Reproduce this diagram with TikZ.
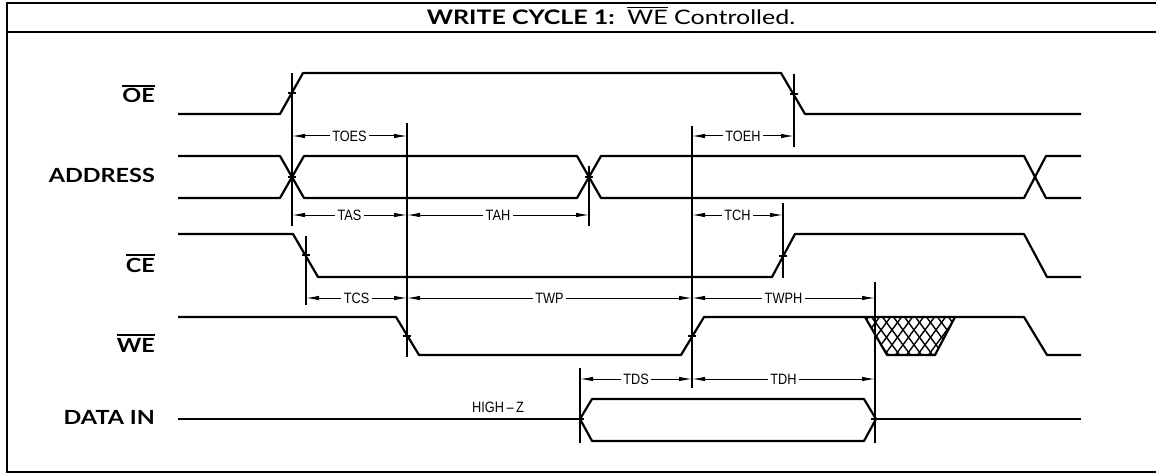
\documentclass[tikz,border=0pt]{standalone}
\usepackage{fontspec}
\setmainfont{Lato}
\newfontfamily\sigfont[FakeStretch=1.2]{Lato}
\newfontfamily\headfont[FakeStretch=1.25]{Lato}
\newfontfamily\timefont[FakeStretch=0.85]{Liberation Sans}
\usetikzlibrary{arrows.meta}

% signal name with an active-low bar over it
\newcommand{\barsig}[1]{\vbox{\hrule height 1.7pt\kern 2.2pt\hbox{#1}}}

\begin{document}
\begin{tikzpicture}[
    x=1pt, y=-1pt,
    % --- outer frame and title strip ---
    frame/.style={line width=2.4pt, black},
    title/.style={anchor=base, inner sep=0pt,
                  font={\headfont\fontsize{20}{23}\selectfont}},
    % --- signal names on the left ---
    sig/.style={anchor=base east, inner sep=0pt,
                font={\sigfont\bfseries\fontsize{19.5}{22}\selectfont}},
    % --- waveforms ---
    wave/.style={line width=2.2pt, line join=round},
    hatch/.style={line width=1.4pt},
    % --- timing reference lines and dimension arrows ---
    refl/.style={line width=1.2pt},
    dim/.style={{Latex[length=13pt,width=4.5pt]}-{Latex[length=13pt,width=4.5pt]},
                line width=1pt},
    tlbl/.style={font={\timefont\fontsize{15}{17}\selectfont}, fill=white,
                 inner sep=2.5pt},
  ]

  \useasboundingbox (0,0) rectangle (1156,476);

  % ---- FRAME + TITLE -----------------------------------------------------
  \draw[frame] (1156,3) -- (7,3) -- (7,472) -- (1156,472);
  \draw[frame] (7,32) -- (1156,32);
  \node[title] (title) at (611,25)
        {\textbf{WRITE CYCLE 1:}\ \ \barsig{WE} Controlled.};

  % ---- SIGNAL NAMES ------------------------------------------------------
  \node[sig] (nOE)   at (155,103) {\barsig{OE}};
  \node[sig] (nADDR) at (155,182) {ADDRESS};
  \node[sig] (nCE)   at (155,272) {\barsig{CE}};
  \node[sig] (nWE)   at (155,352) {\barsig{WE}};
  \node[sig] (nDATA) at (155,424) {DATA IN};

  % ---- EDGE INSTANTS + DIMENSION ROWS ------------------------------------
  \coordinate (eA)  at (292,0);   % OE rise / address valid
  \coordinate (eCs) at (306,0);   % CE fall
  \coordinate (eW1) at (407,0);   % WE fall
  \coordinate (eD0) at (580,0);   % data valid
  \coordinate (eA2) at (589,0);   % address change
  \coordinate (eW2) at (692,0);   % WE rise
  \coordinate (eC2) at (783,0);   % CE rise
  \coordinate (eO2) at (794,0);   % OE fall
  \coordinate (eD1) at (875,0);   % data end

  \coordinate (rOE) at (0,136);
  \coordinate (rAS) at (0,215);
  \coordinate (rWP) at (0,298);
  \coordinate (rDS) at (0,379);

  % ---- WAVEFORMS ---------------------------------------------------------
  % OE
  \draw[wave] (178,114) -- (280,114) -- (303,73) -- (781,73) -- (805,114)
        -- (1081,114);
  % ADDRESS
  \draw[wave] (178,156) -- (280,156) -- (304,198) -- (577,198) -- (601,156)
        -- (1024,156) -- (1046,198) -- (1081,198);
  \draw[wave] (178,198) -- (280,198) -- (304,156) -- (577,156) -- (601,198)
        -- (1024,198) -- (1046,156) -- (1081,156);
  % CE
  \draw[wave] (178,234) -- (293,234) -- (318,277) -- (772,277) -- (795,234)
        -- (1024,234) -- (1047,277) -- (1081,277);
  % WE
  \draw[wave] (178,317) -- (396,317) -- (419,355) -- (681,355) -- (704,317)
        -- (1024,317) -- (1047,355) -- (1081,355);
  % don't-care region on WE
  \begin{scope}
    \clip (865,317) -- (955,317) -- (935,355) -- (887,355) -- cycle;
    \foreach \x in {826,837,...,1002} {
      \draw[hatch] (\x,315) -- ++(31,42);
      \draw[hatch] (\x,315) -- ++(-31,42);
    }
  \end{scope}
  \draw[wave] (865,317) -- (887,355) -- (935,355) -- (955,317);
  % DATA IN
  \draw[wave] (178,419) -- (580,419);
  \draw[wave] (580,419) -- (592,399) -- (864,399) -- (876,419) -- (864,441)
        -- (592,441) -- cycle;
  \draw[wave] (876,419) -- (1081,419);
  \node[tlbl, fill=none, anchor=base, inner sep=0pt] (hiz) at (498,412)
        {HIGH\,\textendash\,Z};

  % ---- REFERENCE LINES ---------------------------------------------------
  \draw[refl] (eA  |- 0,73)  -- (eA  |- 0,226);
  \draw[refl] (eCs |- 0,236) -- (eCs |- 0,305);
  \draw[refl] (eW1 |- 0,123) -- (eW1 |- 0,357);
  \draw[refl] (eD0 |- 0,368) -- (eD0 |- 0,443);
  \draw[refl] (eA2 |- 0,166) -- (eA2 |- 0,226);
  \draw[refl] (eW2 |- 0,126) -- (eW2 |- 0,388);
  \draw[refl] (eC2 |- 0,203) -- (eC2 |- 0,278);
  \draw[refl] (eO2 |- 0,74)  -- (eO2 |- 0,147);
  \draw[refl] (eD1 |- 0,282) -- (eD1 |- 0,443);
  % crossing ticks
  \foreach \x/\y in {292/93, 292/177, 306/255, 407/336, 589/177, 692/336,
                     783/256, 794/94, 580/419, 875/419}
    \draw[refl] ({\x-4},\y) -- ({\x+4},\y);

  % ---- TIMING DIMENSIONS -------------------------------------------------
  \draw[dim] (eA  |- rOE) -- node[tlbl] {TOES} (eW1 |- rOE);
  \draw[dim] (eW2 |- rOE) -- node[tlbl] {TOEH} (eO2 |- rOE);

  \draw[dim] (eA  |- rAS) -- node[tlbl] {TAS} (eW1 |- rAS);
  \draw[dim] (eW1 |- rAS) -- node[tlbl] {TAH} (eA2 |- rAS);
  \draw[dim] (eW2 |- rAS) -- node[tlbl] {TCH} (eC2 |- rAS);

  \draw[dim] (eCs |- rWP) -- node[tlbl] {TCS} (eW1 |- rWP);
  \draw[dim] (eW1 |- rWP) -- node[tlbl] {TWP} (eW2 |- rWP);
  \draw[dim] (eW2 |- rWP) -- node[tlbl] {TWPH} (eD1 |- rWP);

  \draw[dim] (eD0 |- rDS) -- node[tlbl] {TDS} (eW2 |- rDS);
  \draw[dim] (eW2 |- rDS) -- node[tlbl] {TDH} (eD1 |- rDS);

\end{tikzpicture}
\end{document}
